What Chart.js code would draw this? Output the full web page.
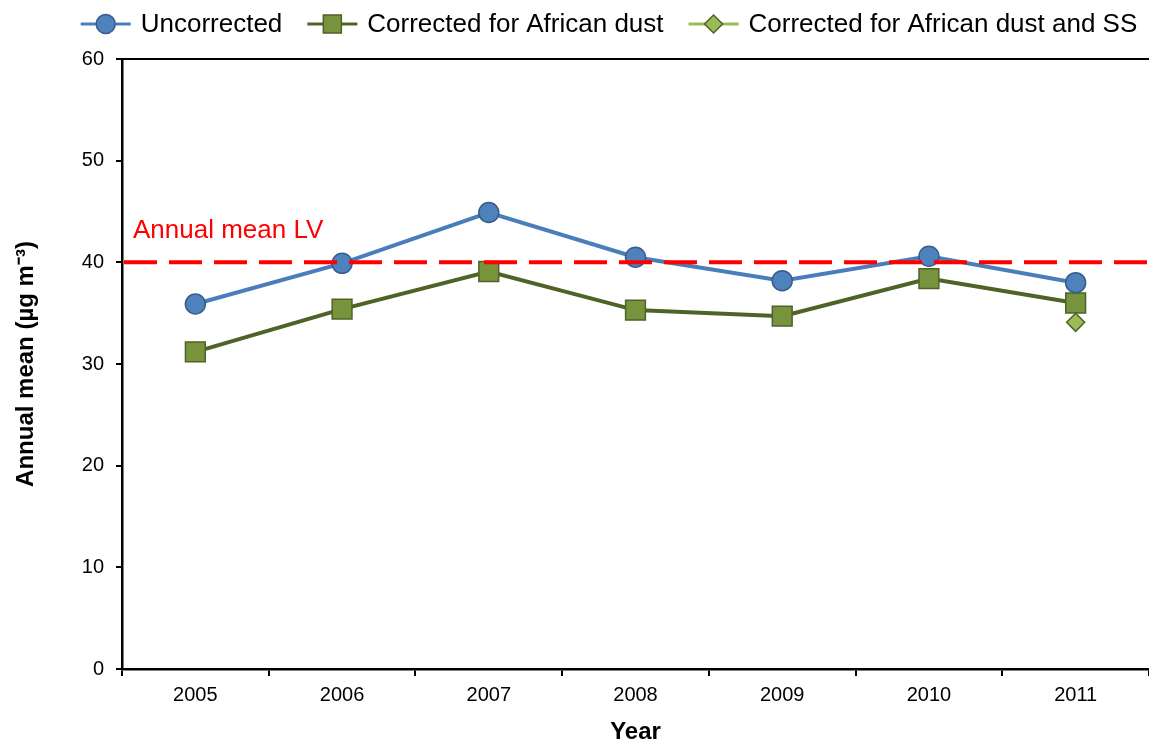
<!DOCTYPE html>
<html>
<head>
<meta charset="utf-8">
<script src="https://cdn.jsdelivr.net/npm/chart.js@4.4.1/dist/chart.umd.min.js"></script>
<style>
  html, body { margin: 0; padding: 0; background: #fff; }
  #wrap { width: 1149px; height: 742px; }
</style>
</head>
<body>
<div id="wrap"><canvas id="chart" width="1149" height="742"></canvas></div>
<script>
const years = ["2005", "2006", "2007", "2008", "2009", "2010", "2011"];
const uncorrected = [35.9, 39.9, 44.9, 40.5, 38.2, 40.6, 38.0];
const correctedDust = [31.2, 35.4, 39.1, 35.3, 34.7, 38.4, 36.0];
const correctedDustSS = [null, null, null, null, null, null, 34.1];
const limitValue = 40;
const limitLabel = "Annual mean LV";

const FONT = "'Liberation Sans', Arial, sans-serif";

// legend drawn by hand: line + marker + text, like the office chart
const legendItems = [
    { text: "Uncorrected", line: "#4A7EBB", fill: "#4F81BD", border: "#385D8A", shape: "circle" },
    { text: "Corrected for African dust", line: "#4F6228", fill: "#77933C", border: "#4F6228", shape: "rect" },
    { text: "Corrected for African dust and SS", line: "#9BBB59", fill: "#9BBB59", border: "#4F6228", shape: "diamond" }
];

const extras = {
    id: "extras",
    afterDatasetsDraw(chart) {
        const c = chart.ctx;
        const area = chart.chartArea;
        const y = chart.scales.y.getPixelForValue(limitValue);
        c.save();
        // limit value line
        c.strokeStyle = "#FF0000";
        c.lineWidth = 4;
        c.setLineDash([33, 12]);
        c.beginPath();
        c.moveTo(area.left + 2, y);
        c.lineTo(area.right + 2, y);
        c.stroke();
        c.setLineDash([]);
        c.fillStyle = "#FF0000";
        c.font = "26px " + FONT;
        c.textBaseline = "alphabetic";
        c.fillText(limitLabel, 133, y - 24);
        // top border
        c.strokeStyle = "#000";
        c.lineWidth = 2;
        c.beginPath();
        c.moveTo(area.left - 6, area.top);
        c.lineTo(area.right + 2, area.top);
        c.stroke();
        c.restore();
    },
    afterDraw(chart) {
        const c = chart.ctx;
        c.save();
        c.font = "26px " + FONT;
        c.textBaseline = "middle";
        const lineLen = 50, gapText = 10, gapItem = 25, ly = 24;
        let total = 0;
        legendItems.forEach((it, i) => {
            total += lineLen + gapText + c.measureText(it.text).width;
            if (i > 0) total += gapItem;
        });
        let x = 609 - total / 2;
        legendItems.forEach(it => {
            c.strokeStyle = it.line;
            c.lineWidth = 3;
            c.beginPath();
            c.moveTo(x, ly);
            c.lineTo(x + lineLen, ly);
            c.stroke();
            const mx = x + lineLen / 2;
            c.fillStyle = it.fill;
            c.strokeStyle = it.border;
            c.lineWidth = 1.5;
            c.beginPath();
            if (it.shape === "circle") {
                c.arc(mx, ly, 9.5, 0, Math.PI * 2);
            } else if (it.shape === "rect") {
                c.rect(mx - 9, ly - 9, 18, 18);
            } else {
                c.moveTo(mx, ly - 9);
                c.lineTo(mx + 9, ly);
                c.lineTo(mx, ly + 9);
                c.lineTo(mx - 9, ly);
                c.closePath();
            }
            c.fill();
            c.stroke();
            c.fillStyle = "#000";
            c.fillText(it.text, x + lineLen + gapText, ly + 1);
            x += lineLen + gapText + c.measureText(it.text).width + gapItem;
        });
        c.restore();
    }
};

new Chart(document.getElementById("chart").getContext("2d"), {
    type: "line",
    data: {
        labels: years,
        datasets: [
            {
                label: "Corrected for African dust and SS",
                data: correctedDustSS,
                borderColor: "#9BBB59",
                backgroundColor: "#9BBB59",
                pointBorderColor: "#4F6228",
                pointBorderWidth: 1.5,
                pointStyle: "rectRot",
                pointRadius: 9,
                borderWidth: 3,
                order: 3
            },
            {
                label: "Corrected for African dust",
                data: correctedDust,
                borderColor: "#4F6228",
                backgroundColor: "#77933C",
                pointBorderColor: "#4F6228",
                pointBorderWidth: 1.5,
                pointStyle: "rect",
                pointRadius: 14,
                borderWidth: 4,
                order: 2
            },
            {
                label: "Uncorrected",
                data: uncorrected,
                borderColor: "#4A7EBB",
                backgroundColor: "#4F81BD",
                pointBorderColor: "#385D8A",
                pointBorderWidth: 1.5,
                pointStyle: "circle",
                pointRadius: 10,
                borderWidth: 4,
                order: 1
            }
        ]
    },
    options: {
        responsive: false,
        animation: false,
        layout: { autoPadding: false, padding: { top: 59, left: 0, right: 0, bottom: 0 } },
        plugins: {
            legend: { display: false },
            tooltip: { enabled: false }
        },
        scales: {
            x: {
                offset: true,
                grid: { offset: true, drawOnChartArea: false, drawTicks: true, tickLength: 7, color: "#000", lineWidth: 2 },
                border: { color: "#000", width: 2.5 },
                ticks: { color: "#000", font: { family: FONT, size: 20 }, padding: 7 },
                title: { display: true, text: "Year", color: "#000", font: { family: FONT, size: 24, weight: "bold" }, padding: { top: 12, bottom: -5 } },
                afterFit: s => { s.height = 73; s.paddingLeft = 0; s.paddingRight = 0; }
            },
            y: {
                min: 0,
                max: 60,
                ticks: { stepSize: 10, color: "#000", font: { family: FONT, size: 20 }, padding: 12 },
                grid: { drawOnChartArea: false, drawTicks: true, tickLength: 6, color: "#000", lineWidth: 2 },
                border: { color: "#000", width: 2.5 },
                title: { display: true, text: "Annual mean (µg m⁻³)", color: "#000", font: { family: FONT, size: 24, weight: "bold" }, padding: { top: 12, bottom: 0 } },
                afterFit: s => { s.width = 122; }
            }
        }
    },
    plugins: [extras]
});
</script>
</body>
</html>
